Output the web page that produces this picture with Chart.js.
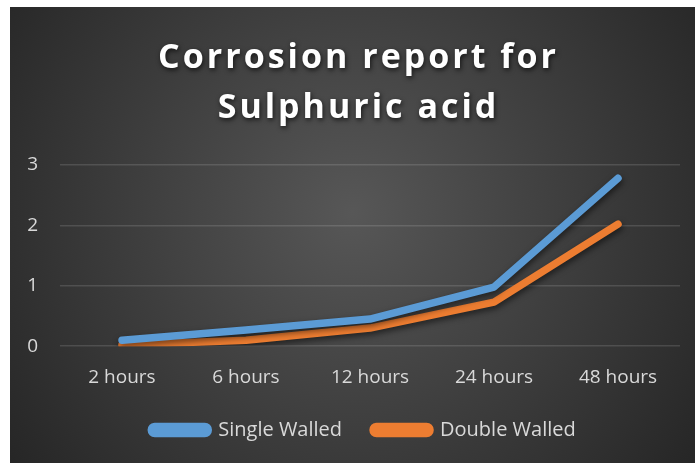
<!DOCTYPE html>
<html>
<head>
<meta charset="utf-8">
<script src="https://cdn.jsdelivr.net/npm/chart.js@4.4.0/dist/chart.umd.min.js"></script>
<style>
  html, body { margin: 0; padding: 0; background: #ffffff; }
  #wrap { position: absolute; left: 10px; top: 7px; width: 685px; height: 456px; }
</style>
</head>
<body>
<div id="wrap"><canvas id="chart"></canvas></div>
<script>
const categories = ["2 hours", "6 hours", "12 hours", "24 hours", "48 hours"]
const singleWalled = [0.1, 0.27, 0.45, 0.98, 2.78]
const doubleWalled = [0.02, 0.1, 0.3, 0.73, 2.02]
const titleLines = ["Corrosion report for", "Sulphuric acid"]

const fontFamily = "'Open Sans', 'Noto Sans', sans-serif"
const textColor = "#d9d9d9"
const blue = "#5b9bd5"
const orange = "#ed7d31"

// dark radial background like the office theme
const backgroundPlugin = {
    id: "background",
    beforeDraw(chart) {
        const ctx = chart.ctx
        const w = chart.width, h = chart.height
        const g = ctx.createRadialGradient(w * 0.5, h * 0.45, 0, w * 0.5, h * 0.45, w * 0.62)
        g.addColorStop(0, "#575757")
        g.addColorStop(1, "#262626")
        ctx.save()
        ctx.fillStyle = g
        ctx.fillRect(0, 0, w, h)
        ctx.restore()
    }
}

// title: nudge right a bit, add shadow and spacing
function wrapTitle(chart, box) {
    if (!box || box._wrapped) return
    const orig = box.draw.bind(box)
    box.draw = function (area) {
        const ctx = chart.ctx
        ctx.save()
        ctx.translate(6, 0)
        ctx.shadowColor = "rgba(0,0,0,0.7)"
        ctx.shadowBlur = 5
        ctx.shadowOffsetX = 1
        ctx.shadowOffsetY = 2
        ctx.letterSpacing = "3px"
        orig(area)
        ctx.restore()
    }
    box._wrapped = true
}

// legend: keep wide item gaps but take less height
function wrapLegend(chart, legend) {
    if (!legend || legend._wrapped) return
    const origFit = legend.fit.bind(legend)
    legend.fit = function () {
        origFit()
        this.height -= 19
    }
    legend.draw = function () {
        const ctx = chart.ctx
        ctx.save()
        ctx.translate(11, -20)
        this._draw()
        ctx.restore()
    }
    legend._wrapped = true
}

const tweaksPlugin = {
    id: "tweaks",
    beforeLayout(chart) {
        wrapLegend(chart, chart.legend)
    },
    afterLayout(chart) {
        wrapTitle(chart, chart.titleBlock)
    },
    beforeDatasetsDraw(chart) {
        const ctx = chart.ctx
        ctx.save()
        ctx.shadowColor = "rgba(0,0,0,0.55)"
        ctx.shadowBlur = 6
        ctx.shadowOffsetX = 1
        ctx.shadowOffsetY = 3
    },
    afterDatasetsDraw(chart) {
        chart.ctx.restore()
    }
}

new Chart(document.getElementById("chart").getContext("2d"), {
    type: "line",
    data: {
        labels: categories,
        datasets: [
            {
                label: "Single Walled",
                data: singleWalled,
                borderColor: blue,
                backgroundColor: blue,
                borderWidth: 7.5,
                pointRadius: 0,
                tension: 0,
                borderCapStyle: "round",
                borderJoinStyle: "round"
            },
            {
                label: "Double Walled",
                data: doubleWalled,
                borderColor: orange,
                backgroundColor: orange,
                borderWidth: 7.5,
                pointRadius: 0,
                tension: 0,
                borderCapStyle: "round",
                borderJoinStyle: "round"
            }
        ]
    },
    options: {
        responsive: true,
        maintainAspectRatio: false,
        animation: false,
        layout: { padding: { left: 15, right: 15, top: 0, bottom: 12 } },
        plugins: {
            title: {
                display: true,
                text: titleLines,
                color: "#ffffff",
                font: { family: fontFamily, size: 34, weight: "bold", lineHeight: 50 / 34 },
                padding: { top: 26, bottom: 32 }
            },
            legend: {
                position: "bottom",
                labels: {
                    color: textColor,
                    font: { family: fontFamily, size: 20 },
                    boxWidth: 57,
                    boxHeight: 7,
                    useBorderRadius: true,
                    borderRadius: 3.5,
                    padding: 31
                }
            },
            tooltip: { enabled: false }
        },
        scales: {
            x: {
                offset: true,
                grid: { display: false, drawTicks: false },
                border: { display: false },
                ticks: { color: textColor, font: { family: fontFamily, size: 19 }, padding: 20, maxRotation: 0 }
            },
            y: {
                min: 0,
                max: 3,
                afterFit(scale) { scale.width = 35 },
                grid: { color: "rgba(255,255,255,0.13)", lineWidth: 1.5, drawTicks: false },
                border: { display: false },
                ticks: { stepSize: 1, color: textColor, font: { family: fontFamily, size: 19 }, padding: 22 }
            }
        }
    },
    plugins: [backgroundPlugin, tweaksPlugin]
})
</script>
</body>
</html>
